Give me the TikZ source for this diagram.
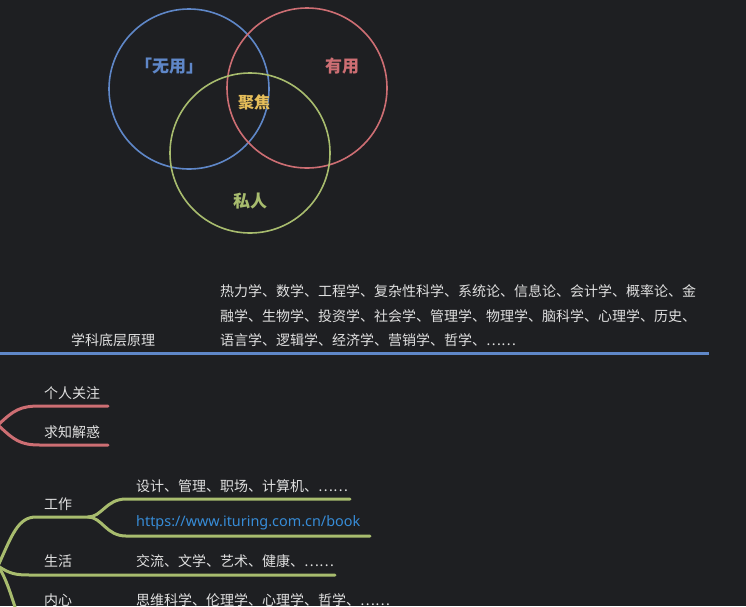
\documentclass[tikz,border=0pt]{standalone}
\usepackage{fontspec}
\setmainfont{Noto Sans CJK SC}
\newfontfamily\urlfont{Noto Sans}
\definecolor{bg}{HTML}{1E1F22}
\definecolor{cblue}{HTML}{5F87C8}
\definecolor{cred}{HTML}{CD6E73}
\definecolor{cgreen}{HTML}{A8BC6E}
\definecolor{cyellow}{HTML}{E6BE5A}
\definecolor{ctext}{HTML}{E0E0E0}
\definecolor{curl}{HTML}{378CD7}
\tikzset{
  venn/.style={circle, draw, line width=1.6pt, minimum size=160pt, inner sep=0pt},
  vlabel/.style={font=\fontsize{17}{17}\selectfont\bfseries, inner sep=0pt},
  txt/.style={font=\fontsize{14}{14}\selectfont, text=ctext, anchor=base west, inner sep=0pt},
  branch/.style={line width=3pt, line cap=round},
}
\begin{document}
\begin{tikzpicture}[x=1pt,y=-1pt]
\fill[bg] (0,0) rectangle (746,606);
\useasboundingbox (0,0) rectangle (746,606);
% Venn
\node[venn, draw=cblue] (cb) at (189,89) {};
\node[venn, draw=cred] (cr) at (307,88) {};
\node[venn, draw=cgreen] (cg) at (250,153) {};
\node[vlabel, text=cblue] (lb) at (169,66) {｢无用｣};
\node[vlabel, text=cred] (lr) at (342,66) {有用};
\node[vlabel, text=cyellow, font=\fontsize{16}{16}\selectfont\bfseries] (ly) at (254,102) {聚焦};
\node[vlabel, text=cgreen] (lg) at (250,201) {私人};
% subjects
\coordinate (bl0) at (0,353);
\coordinate (bl1) at (709,353);
\draw[cblue, line width=3pt] (bl0) -- (bl1);
\node[txt] (sub) at (71,345) {学科底层原理};
\node[txt] (p1) at (220,296) {热力学、数学、工程学、复杂性科学、系统论、信息论、会计学、概率论、金};
\node[txt] (p2) at (220,321) {融学、生物学、投资学、社会学、管理学、物理学、脑科学、心理学、历史、};
\node[txt] (p3) at (220,345) {语言学、逻辑学、经济学、营销学、哲学、……};
% red branches
\coordinate (r0) at (-2,425);
\coordinate (ra) at (108,406);
\coordinate (rb) at (108,445);
\draw[cred, branch] (r0) .. controls (14,410) and (20,406) .. (40,406) -- (ra);
\draw[cred, branch] (r0) .. controls (14,440) and (20,445) .. (40,445) -- (rb);
\node[txt] (t1) at (44,398) {个人关注};
\node[txt] (t2) at (44,437) {求知解惑};
% green branches
\coordinate (g0) at (-2,566);
\coordinate (gw) at (88,517);
\coordinate (gw1) at (350,499);
\coordinate (gw2) at (370,536);
\coordinate (gl) at (335,575);
\coordinate (gi) at (16,610);
\draw[cgreen, branch] (g0) .. controls (12,535) and (18,517) .. (36,517) -- (gw);
\draw[cgreen, branch] (gw) .. controls (102,517) and (106,499) .. (126,499) -- (gw1);
\draw[cgreen, branch] (gw) .. controls (102,517) and (106,536) .. (126,536) -- (gw2);
\draw[cgreen, branch] (g0) .. controls (10,574) and (16,575) .. (30,575) -- (gl);
\draw[cgreen, branch] (g0) .. controls (6,578) and (10,592) .. (gi);
\node[txt] (w) at (44,509) {工作};
\node[txt] (l) at (44,566) {生活};
\node[txt] (n) at (44,605) {内心};
\node[txt] (w1) at (136,491) {设计、管理、职场、计算机、……};
\node[txt, text=curl, font=\fontsize{14.4}{14.4}\urlfont] (w2) at (136,526) {https://www.ituring.com.cn/book};
\node[txt] (l1) at (136,566) {交流、文学、艺术、健康、……};
\node[txt] (n1) at (136,605) {思维科学、伦理学、心理学、哲学、……};
\end{tikzpicture}
\end{document}
